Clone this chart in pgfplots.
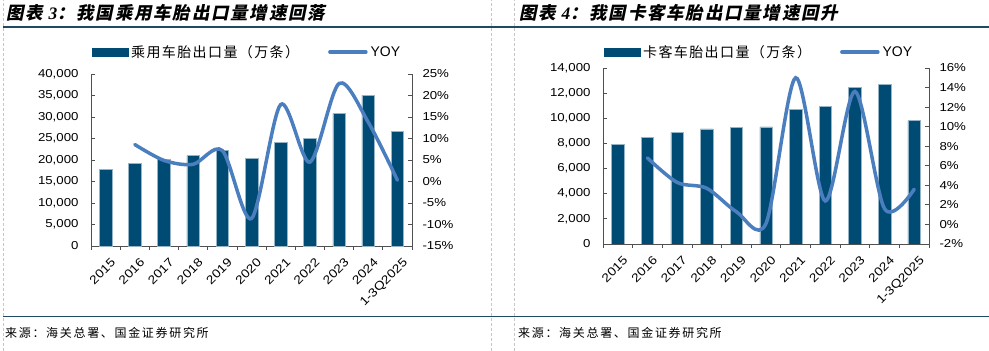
\documentclass[border=0pt]{standalone}
\usepackage{fontspec}
\usepackage{pgfplots}
\pgfplotsset{compat=1.18}
\setmainfont{Liberation Sans}
\newfontfamily\tickfont{Liberation Sans}[FakeStretch=1.15]
\newfontfamily\cjk{Noto Sans CJK SC}
\newfontfamily\cjklegend{Noto Sans CJK SC}[LetterSpace=10]
\newfontfamily\cjksrc{Noto Sans CJK SC}[LetterSpace=14]
\newfontfamily\cjktitle{Noto Sans CJK SC}[FakeSlant=0.2, LetterSpace=10]
\newfontfamily\titlenum{Liberation Serif}
\definecolor{barblue}{RGB}{0,75,115}
\definecolor{baredge}{RGB}{150,180,200}
\definecolor{lineblue}{RGB}{74,126,190}
\definecolor{headblue}{RGB}{31,73,100}
\definecolor{axisgray}{RGB}{80,80,80}

\pgfplotsset{
  common/.style={
    scale only axis, anchor=south west,
    xmin=-0.5, xmax=10.5,
    tick align=inside,
    major tick length=4bp, minor tick length=4bp,
    axis line style={axisgray, line width=0.8bp, -},
    every tick/.style={axisgray, line width=0.8bp},
    /pgf/number format/assume math mode=true,
    tick label style={font=\tickfont\fontsize{11.5bp}{13bp}\selectfont, text=black},
  },
  barax/.style={
    common,
    axis x line*=bottom, axis y line*=left,
    xtick={0,...,10},
    xticklabels={2015,2016,2017,2018,2019,2020,2021,2022,2023,2024,1-3Q2025},
    minor xtick={-0.5,0.5,...,10.5},
    major x tick style={draw=none},
    x tick label style={rotate=45, anchor=north east, xshift=1.5bp, yshift=-5bp,
      font=\tickfont\fontsize{12bp}{13bp}\selectfont},
    scaled y ticks=false,
    yticklabel style={xshift=-9bp, /pgf/number format/.cd, fixed, 1000 sep={,}},
    ybar, bar width=12.5bp,
  },
  lineax/.style={
    common,
    axis x line=none, axis y line*=right,
    yticklabel={\pgfmathprintnumber{\tick}\%},
    yticklabel style={xshift=7bp},
    legend columns=2,
    legend cell align=left,
    legend style={draw=none, fill=none, inner sep=0pt,
      font=\fontsize{14bp}{16bp}\selectfont,
      nodes={inner xsep=3bp, inner ysep=0pt},
      /tikz/every even column/.append style={column sep=26bp}},
  },
  barlegend/.style={legend image code/.code={\fill[barblue] (0bp,-4bp) rectangle (36bp,4bp);}},
  linelegend/.style={legend image code/.code={\draw[lineblue, line width=3.5bp, line cap=round] (1bp,0bp) -- (37bp,0bp);}},
}

\begin{document}
\begin{tikzpicture}
\useasboundingbox (0,0) rectangle (989bp,351bp);
% frame decorations
\draw[gray!45, dash pattern=on 3bp off 2bp, line width=0.7bp] (3bp,0bp) -- (3bp,351bp);
\draw[gray!45, dash pattern=on 3bp off 2bp, line width=0.7bp] (491bp,0bp) -- (491bp,351bp);
\draw[gray!45, dash pattern=on 3bp off 2bp, line width=0.7bp] (514bp,0bp) -- (514bp,351bp);
\draw[headblue, line width=1.2bp] (3bp,324bp) -- (989bp,324bp);
\draw[headblue, line width=1.2bp] (3bp,34.5bp) -- (989bp,34.5bp);

\node[anchor=west, inner sep=0pt] at (6bp,338.5bp) {\cjktitle\bfseries\fontsize{17.5bp}{20bp}\selectfont 图表 {\titlenum\bfseries\itshape 3}：我国乘用车胎出口量增速回落};
\node[anchor=west, inner sep=0pt] at (519bp,338.5bp) {\cjktitle\bfseries\fontsize{17.5bp}{20bp}\selectfont 图表 {\titlenum\bfseries\itshape 4}：我国卡客车胎出口量增速回升};
\node[anchor=west, inner sep=0pt] at (5bp,18bp) {\cjksrc\fontsize{12bp}{14bp}\selectfont 来源：海关总署、国金证券研究所};
\node[anchor=west, inner sep=0pt] at (518bp,18bp) {\cjksrc\fontsize{12bp}{14bp}\selectfont 来源：海关总署、国金证券研究所};

% ---------- left panel ----------
\begin{axis}[barax, at={(91bp,105bp)}, width=321bp, height=172bp,
  ymin=0, ymax=40000, ytick={0,5000,...,40000}]
\addplot[fill=barblue, draw=baredge, line width=0.5bp] coordinates {
(0,17800) (1,19300) (2,20200) (3,21000) (4,22300) (5,20400)
(6,24100) (7,25100) (8,30800) (9,35000) (10,26600)};
\end{axis}
\begin{axis}[lineax, at={(91bp,105bp)}, width=321bp, height=172bp,
  ymin=-15, ymax=25, ytick={-15,-10,...,25},
  legend style={at={(axis description cs:0.4875,1.128)}, anchor=center}]
\addlegendimage{barlegend}
\addlegendentry{\cjklegend 乘用车胎出口量（万条）}
\addplot[lineblue, line width=3.5bp, line cap=round, smooth, linelegend] coordinates {
(1,8.6) (2,4.9) (3,4.0) (4,7.2) (5,-8.6) (6,17.9) (7,4.5) (8,22.8) (9,13.8) (10,0.3)};
\addlegendentry{YOY}
\end{axis}

% ---------- right panel ----------
\begin{axis}[barax, at={(603bp,107bp)}, width=326bp, height=176bp,
  ymin=0, ymax=14000, ytick={0,2000,...,14000}]
\addplot[fill=barblue, draw=baredge, line width=0.5bp] coordinates {
(0,7930) (1,8460) (2,8860) (3,9150) (4,9280) (5,9310)
(6,10690) (7,10950) (8,12440) (9,12700) (10,9810)};
\end{axis}
\begin{axis}[lineax, at={(603bp,107bp)}, width=326bp, height=176bp,
  ymin=-2, ymax=16, ytick={-2,0,...,16},
  legend style={at={(axis description cs:0.48,1.091)}, anchor=center}]
\addlegendimage{barlegend}
\addlegendentry{\cjklegend 卡客车胎出口量（万条）}
\addplot[lineblue, line width=3.5bp, line cap=round, smooth, linelegend] coordinates {
(1,6.8) (2,4.3) (3,3.7) (4,1.3) (5,0.1) (6,15.0) (7,2.4) (8,13.6) (9,1.6) (10,3.6)};
\addlegendentry{YOY}
\end{axis}
\end{tikzpicture}
\end{document}
